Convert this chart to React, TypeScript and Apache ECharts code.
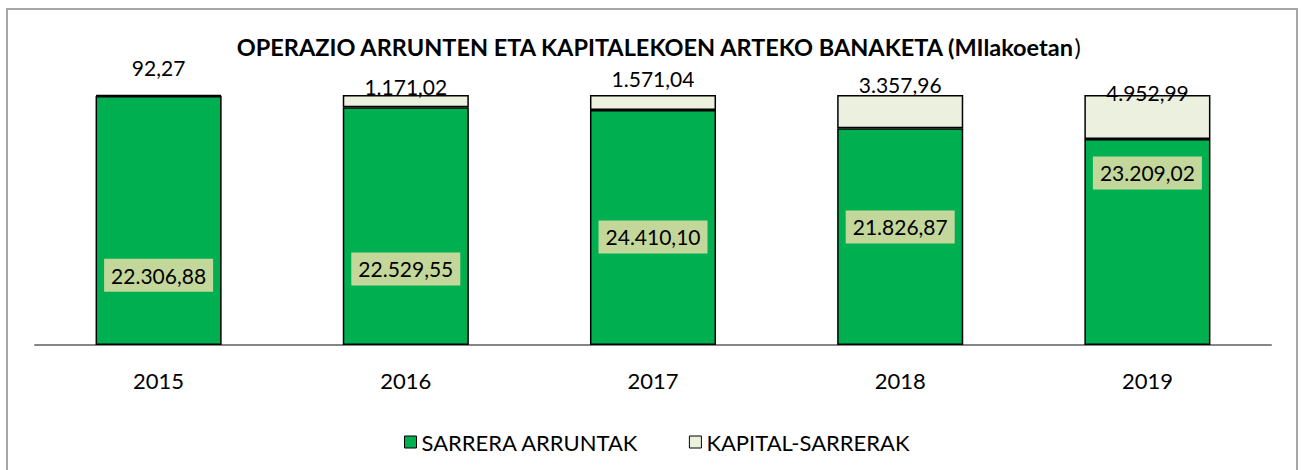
import React, { useEffect, useRef } from "react";
import * as echarts from "echarts";

const categories = ["2015", "2016", "2017", "2018", "2019"];
const sarreraArruntak = [22306.88, 22529.55, 24410.1, 21826.87, 23209.02];
const kapitalSarrerak = [92.27, 1171.02, 1571.04, 3357.96, 4952.99];
const seriesNames = ["SARRERA ARRUNTAK", "KAPITAL-SARRERAK"];

// label layout (relative to each segment)
const innerLabelPos = ["72%", "68%", "54%", "45.5%", "16.5%"];
const topLabelDy = [-27, -9, -17, -11, -3];

const FONT = "Lato, 'Open Sans', sans-serif";

function fmt(v: number): string {
  const [i, d] = v.toFixed(2).split(".");
  const withDots = i.replace(/\B(?=(\d{3})+(?!\d))/g, ".");
  return withDots + "," + d;
}

export default function App() {
  const ref = useRef<HTMLDivElement>(null);
  useEffect(() => {
    document.body.style.margin = "0";
    const chart = echarts.init(ref.current!, null, { renderer: "svg" });
    const totals = categories.map((_, i) => sarreraArruntak[i] + kapitalSarrerak[i]);
    chart.setOption({
      animation: false,
      backgroundColor: "#fff",
      grid: { left: 35, right: 31, top: 95, bottom: 125 },
      graphic: [
        {
          type: "rect",
          z: -1,
          shape: { x: 7, y: 9, width: 1290, height: 480 },
          style: { fill: "none", stroke: "#A6A6A6", lineWidth: 2 },
        },
        {
          type: "text",
          x: 658,
          y: 47,
          style: {
            text: "{b|OPERAZIO ARRUNTEN ETA KAPITALEKOEN ARTEKO BANAKETA (MIlakoetan}{n|)}",
            align: "center",
            verticalAlign: "middle",
            fill: "#000",
            rich: {
              b: { fontFamily: FONT, fontSize: 23.5, fontWeight: "bold", fill: "#000" },
              n: { fontFamily: FONT, fontSize: 23.5, fontWeight: "normal", fill: "#000" },
            },
          },
        },
      ],
      legend: {
        data: seriesNames,
        left: 399,
        top: 426,
        icon: "rect",
        itemWidth: 12,
        itemHeight: 12,
        itemGap: 50,
        textStyle: { fontFamily: FONT, fontSize: 22, color: "#000", lineHeight: 22 },
        itemStyle: { borderColor: "#000", borderWidth: 1 },
      },
      xAxis: {
        type: "category",
        data: categories,
        axisLine: { lineStyle: { color: "#868686", width: 2 } },
        axisTick: { show: false },
        axisLabel: { fontFamily: FONT, fontSize: 22, color: "#000", margin: 24, lineHeight: 22 },
      },
      yAxis: { type: "value", min: 0, max: 100, show: false },
      series: [
        {
          name: seriesNames[0],
          type: "bar",
          stack: "total",
          barWidth: "51%",
          itemStyle: { color: "#00B050", borderColor: "#000", borderWidth: 1.5 },
          data: sarreraArruntak.map((v, i) => ({
            value: (v / totals[i]) * 100,
            label: { position: ["50%", innerLabelPos[i]] },
          })),
          label: {
            show: true,
            align: "center",
            verticalAlign: "middle",
            fontFamily: FONT,
            fontSize: 21,
            color: "#000",
            backgroundColor: "#C4D79B",
            padding: [6, 7, 6, 7],
            formatter: (p: any) => fmt(sarreraArruntak[p.dataIndex]),
          },
        },
        {
          name: seriesNames[1],
          type: "bar",
          stack: "total",
          barWidth: "51%",
          itemStyle: { color: "#EBF1DE", borderColor: "#000", borderWidth: 1.5 },
          data: kapitalSarrerak.map((v, i) => ({
            value: (v / totals[i]) * 100,
            label: { position: ["50%", topLabelDy[i]] },
          })),
          label: {
            show: true,
            align: "center",
            verticalAlign: "middle",
            fontFamily: FONT,
            fontSize: 21,
            color: "#000",
            formatter: (p: any) => fmt(kapitalSarrerak[p.dataIndex]),
          },
        },
      ],
    });
    return () => chart.dispose();
  }, []);
  return <div ref={ref} style={{ width: 1302, height: 470 }} />;
}
